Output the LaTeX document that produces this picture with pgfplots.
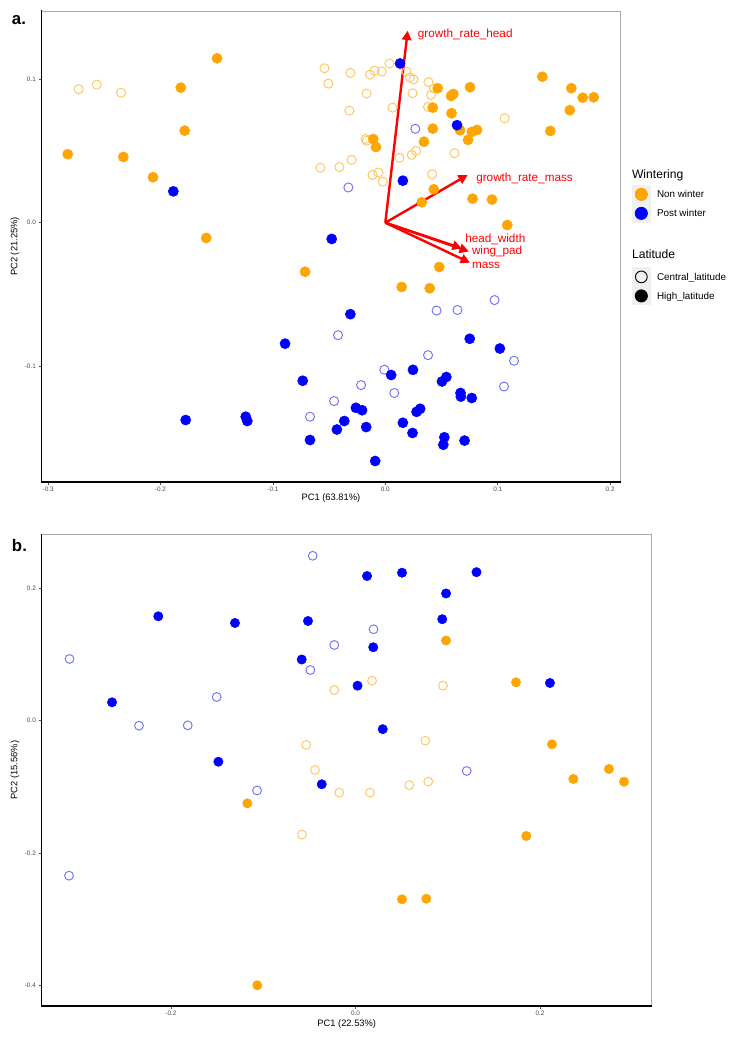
\documentclass[border=0pt]{standalone}
\usepackage{fontspec}
\setmainfont{Liberation Sans}
\usepackage{pgfplots}
\pgfplotsset{compat=1.18}
\usepackage{pgfplotstable}
\usetikzlibrary{arrows.meta}

\definecolor{nonwinter}{RGB}{255,165,0}
\definecolor{postwinter}{RGB}{0,0,255}
\definecolor{nonwinterring}{RGB}{255,196,96}
\definecolor{postwinterring}{RGB}{112,112,255}
\definecolor{tickgray}{RGB}{77,77,77}
\definecolor{framegray}{RGB}{170,170,170}
\definecolor{keygray}{RGB}{240,240,240}
\definecolor{loading}{RGB}{255,0,0}

% ---------- panel a: PCA scores ----------
\pgfplotstableread{
x y
-0.2728 0.0928
-0.2568 0.0960
-0.2351 0.0904
-0.0541 0.1074
-0.0507 0.0967
-0.0311 0.1041
-0.0136 0.1029
-0.0096 0.1057
-0.0032 0.1051
0.0036 0.1107
0.0189 0.1050
0.0218 0.1010
0.0251 0.0997
-0.0167 0.0898
-0.0320 0.0779
0.0064 0.0800
0.0242 0.0900
0.0384 0.0977
0.0407 0.0889
0.0433 0.0932
0.0380 0.0805
-0.0176 0.0582
-0.0165 0.0570
0.0616 0.0483
0.0273 0.0499
0.0235 0.0471
0.0125 0.0451
-0.0301 0.0437
-0.0409 0.0387
-0.0578 0.0382
-0.0062 0.0349
-0.0114 0.0332
-0.0023 0.0285
0.0417 0.0337
0.1062 0.0726
}\aNonCentral

\pgfplotstableread{
x y
-0.1497 0.1143
-0.1820 0.0939
-0.1785 0.0640
-0.2826 0.0476
-0.2331 0.0457
-0.2067 0.0316
-0.1593 -0.0106
-0.0714 -0.0341
-0.0107 0.0582
-0.0083 0.0526
0.0466 0.0935
0.0585 0.0881
0.0605 0.0895
0.0754 0.0942
0.0422 0.0800
0.0589 0.0761
0.0422 0.0654
0.0665 0.0643
0.0769 0.0631
0.0816 0.0645
0.0736 0.0576
0.0344 0.0563
0.0431 0.0232
0.0324 0.0142
0.0776 0.0167
0.0949 0.0161
0.1085 -0.0016
0.1397 0.1015
0.1655 0.0935
0.1756 0.0869
0.1854 0.0872
0.1641 0.0782
0.1468 0.0638
0.0480 -0.0308
0.0146 -0.0447
0.0395 -0.0456
}\aNonHigh

\pgfplotstableread{
x y
-0.0329 0.0245
0.0267 0.0653
-0.0421 -0.0782
0.0972 -0.0538
0.0456 -0.0611
0.0642 -0.0607
0.1145 -0.0960
0.0380 -0.0921
-0.0009 -0.1022
-0.0216 -0.1129
0.0080 -0.1184
0.1056 -0.1139
-0.0456 -0.1240
-0.0670 -0.1349
}\aPostCentral

\pgfplotstableread{
x y
0.0131 0.1107
0.0638 0.0678
0.0156 0.0292
-0.1886 0.0218
-0.0477 -0.0113
-0.0311 -0.0636
-0.0892 -0.0841
-0.0735 -0.1099
0.0751 -0.0807
0.1019 -0.0875
0.0052 -0.1059
0.0246 -0.1023
0.0504 -0.1104
0.0543 -0.1073
0.0669 -0.1184
0.0672 -0.1209
0.0769 -0.1219
-0.0262 -0.1287
-0.0207 -0.1304
0.0278 -0.1315
0.0310 -0.1294
-0.0365 -0.1379
-0.0431 -0.1438
-0.0170 -0.1421
0.0156 -0.1391
0.0242 -0.1462
-0.0670 -0.1511
-0.0090 -0.1657
0.0525 -0.1492
0.0516 -0.1544
0.0705 -0.1515
-0.1776 -0.1372
-0.1242 -0.1349
-0.1228 -0.1379
}\aPostHigh

% ---------- panel b: PCA scores ----------
\pgfplotstableread{
x y
0.0179 0.0605
-0.0230 0.0464
0.0948 0.0529
-0.0534 -0.0367
-0.0439 -0.0745
-0.0176 -0.1088
0.0157 -0.1088
0.0582 -0.0975
0.0788 -0.0919
0.0756 -0.0302
-0.0580 -0.1723
}\bNonCentral

\pgfplotstableread{
x y
0.0981 0.1212
0.1739 0.0580
0.2129 -0.0357
0.2746 -0.0730
0.2360 -0.0881
0.2909 -0.0922
0.1850 -0.1743
0.0504 -0.2700
0.0767 -0.2691
-0.1172 -0.1249
-0.1064 -0.4000
}\bNonHigh

\pgfplotstableread{
x y
-0.0464 0.2493
0.0195 0.1382
-0.0230 0.1144
-0.3099 0.0933
-0.0490 0.0766
-0.1504 0.0358
-0.2346 -0.0076
-0.1818 -0.0070
-0.1067 -0.1055
0.1205 -0.0760
-0.3104 -0.2343
}\bPostCentral

\pgfplotstableread{
x y
0.0125 0.2187
0.0504 0.2237
0.1311 0.2245
0.0981 0.1923
-0.2137 0.1578
-0.1306 0.1477
-0.0515 0.1507
0.0940 0.1534
0.0192 0.1110
-0.0583 0.0925
0.0022 0.0529
0.2107 0.0570
-0.2638 0.0278
0.0295 -0.0128
-0.1486 -0.0620
-0.0366 -0.0961
}\bPostHigh

\pgfplotsset{
  pca/.style={
    scale only axis,
    axis line style={draw=framegray, line width=0.5pt},
    tick pos=left,
    tick align=outside,
    major tick length=2.2pt,
    every tick/.style={draw=tickgray, line width=0.4pt},
    xticklabel style={font=\fontsize{4.8}{5.6}\selectfont, text=tickgray, inner sep=1.6pt},
    yticklabel style={font=\fontsize{4.8}{5.6}\selectfont, text=tickgray, inner sep=2pt},
    label style={font=\fontsize{7}{8.4}\selectfont},
    after end axis/.code={\draw[black, line width=0.9pt, line cap=rect]
      (rel axis cs:0,1) -- (rel axis cs:0,0) -- (rel axis cs:1,0);},
  },
  opencirc/.style={only marks, mark=o, mark size=#1, mark options={line width=0.7pt}, forget plot},
  fullcirc/.style={only marks, mark=*, mark size=#1, forget plot},
  loadarrow/.style={loading, line width=1.8pt, -{Triangle[length=7pt,width=7pt]}, forget plot},
  % legend rows: each row is drawn about its own centre line
  legtitle/.style 2 args={legend image code/.code={
      \path[draw=none, fill=none] (0pt,-#2) rectangle (14pt,8pt);
      \node[anchor=base west, inner sep=0pt, draw=none, fill=none, text=black,
            font=\fontsize{9.1}{10.9}\selectfont] at (0pt,-3.26pt) {#1};}},
  legspacer/.style={legend image code/.code={
      \path[draw=none, fill=none] (0pt,-7.6pt) rectangle (14pt,7.6pt);}},
  legkey/.style 2 args={legend image code/.code={
      \path[draw=none, fill=none] (0pt,-7.125pt) rectangle (14pt,7.125pt);
      \fill[keygray, draw=none] (0pt,-7.125pt) rectangle (14pt,7.125pt);
      #1
      \node[anchor=base west, inner sep=0pt, draw=none, fill=none, text=black,
            font=\fontsize{7.4}{8.9}\selectfont] at (18.75pt,-2.65pt) {#2};}},
}
\tikzset{
  loadlabel/.style={anchor=west, inner sep=0pt, text=loading, font=\fontsize{8.8}{10.5}\selectfont},
}

\begin{document}
\begin{tikzpicture}
\path[use as bounding box] (0pt,0pt) rectangle (561.75pt,-778.5pt);

% ---------------- panel a ----------------
\begin{axis}[
  pca,
  at={(31.3pt,-8.25pt)}, anchor=north west,
  width=433.7pt, height=353.25pt,
  xmin=-0.3057, xmax=0.2088, ymin=-0.1803, ymax=0.1472,
  xtick={-0.3,-0.2,-0.1,0,0.1,0.2},
  xticklabels={-0.3,-0.2,-0.1,0.0,0.1,0.2},
  ytick={-0.1,0,0.1},
  yticklabels={-0.1,0.0,0.1},
  xlabel={PC1 (63.81\%)}, ylabel={PC2 (21.25\%)},
  xlabel style={at={(axis description cs:0.5,-0.034)}, anchor=center},
  ylabel style={at={(axis description cs:-0.0462,0.5)}, anchor=center},
  legend cell align=left,
  legend style={
    at={(rel axis cs:1,1)}, anchor=north west, xshift=9pt, yshift=-114.25pt,
    draw=none, fill=none, inner sep=0pt, outer sep=0pt,
    row sep=0pt, column sep=0pt,
    nodes={inner sep=0pt, outer sep=0pt, text height=0pt, text depth=0pt},
  },
]
\addplot[opencirc=3.4pt, nonwinterring] table {\aNonCentral};
\addplot[opencirc=3.4pt, postwinterring] table {\aPostCentral};
\addplot[fullcirc=3.8pt, nonwinter] table {\aNonHigh};
\addplot[fullcirc=3.8pt, postwinter] table {\aPostHigh};

% variable loadings
\addplot[loadarrow] coordinates {(0,0) (0.0199,0.1335)};
\addplot[loadarrow] coordinates {(0,0) (0.0733,0.0332)};
\addplot[loadarrow] coordinates {(0,0) (0.0680,-0.0178)};
\addplot[loadarrow] coordinates {(0,0) (0.0744,-0.0200)};
\addplot[loadarrow] coordinates {(0,0) (0.0753,-0.0278)};
\node[loadlabel] at (axis cs:0.0288,0.1310) {growth\_rate\_head};
\node[loadlabel] at (axis cs:0.0807,0.0309) {growth\_rate\_mass};
\node[loadlabel] at (axis cs:0.0709,-0.0113) {head\_width};
\node[loadlabel] at (axis cs:0.0769,-0.0202) {wing\_pad};
\node[loadlabel] at (axis cs:0.0769,-0.0294) {mass};

% legend: wintering (colour) and latitude (shape)
\addlegendimage{legtitle={Wintering}{8.15pt}}
\addlegendentry{\mbox{}}
\addlegendimage{legkey={\fill[nonwinter, draw=none] (7pt,0pt) circle[radius=4.9pt];}{Non winter}}
\addlegendentry{\mbox{}}
\addlegendimage{legkey={\fill[postwinter, draw=none] (7pt,0pt) circle[radius=4.9pt];}{Post winter}}
\addlegendentry{\mbox{}}
\addlegendimage{legspacer}
\addlegendentry{\mbox{}}
\addlegendimage{legtitle={Latitude}{10.2pt}}
\addlegendentry{\mbox{}}
\addlegendimage{legkey={\draw[black, fill=none, line width=0.7pt] (7pt,0pt) circle[radius=4.4pt];}{Central\_latitude}}
\addlegendentry{\mbox{}}
\addlegendimage{legkey={\fill[black, draw=none] (7pt,0pt) circle[radius=4.9pt];}{High\_latitude}}
\addlegendentry{\mbox{}}
\end{axis}

% ---------------- panel b ----------------
\begin{axis}[
  pca,
  at={(31.3pt,-400.7pt)}, anchor=north west,
  width=457.5pt, height=353.8pt,
  xmin=-0.340, xmax=0.321, ymin=-0.4313, ymax=0.2818,
  xtick={-0.2,0,0.2},
  xticklabels={-0.2,0.0,0.2},
  ytick={-0.4,-0.2,0,0.2},
  yticklabels={-0.4,-0.2,0.0,0.2},
  xlabel={PC1 (22.53\%)}, ylabel={PC2 (15.56\%)},
  xlabel style={at={(axis description cs:0.5,-0.0382)}, anchor=center},
  ylabel style={at={(axis description cs:-0.0438,0.5)}, anchor=center},
]
\addplot[opencirc=3.3pt, nonwinterring] table {\bNonCentral};
\addplot[opencirc=3.3pt, postwinterring] table {\bPostCentral};
\addplot[fullcirc=3.5pt, nonwinter] table {\bNonHigh};
\addplot[fullcirc=3.5pt, postwinter] table {\bPostHigh};
\end{axis}

% panel tags
\node[anchor=base west, inner sep=0pt, font=\bfseries\fontsize{12.6}{15}\selectfont] at (8.8pt,-18.75pt) {a.};
\node[anchor=base west, inner sep=0pt, font=\bfseries\fontsize{12.6}{15}\selectfont] at (8.8pt,-413.8pt) {b.};
\end{tikzpicture}
\end{document}
